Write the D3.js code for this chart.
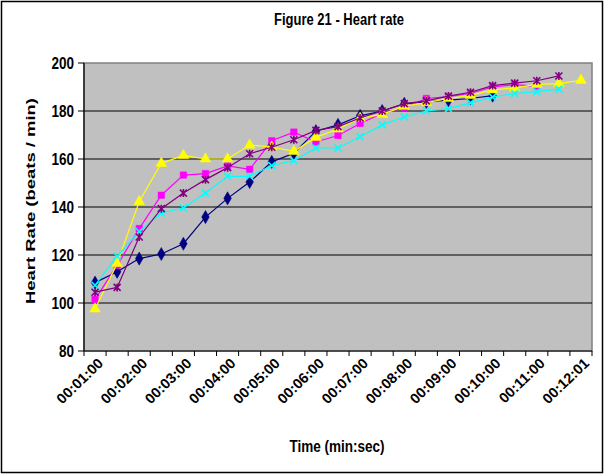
<!DOCTYPE html>
<html><head><meta charset="utf-8">
<script src="https://cdn.jsdelivr.net/npm/d3@7"></script>
<style>
body{margin:0;background:#fff}
svg{display:block}
text{font-family:"Liberation Sans",Arial,sans-serif;font-weight:bold;fill:#000}
</style>
</head><body>
<svg id="c" width="605" height="476"></svg>
<script>
const categories = ["00:01:00","00:01:30","00:02:00","00:02:30","00:03:00","00:03:30","00:04:00","00:04:30",
  "00:05:00","00:05:30","00:06:00","00:06:30","00:07:00","00:07:30","00:08:00","00:08:30","00:09:00","00:09:30",
  "00:10:00","00:10:30","00:11:00","00:11:30","00:12:01"];
const seriesNavy    = [108.5,113,118.5,120.4,124.7,135.8,143.6,150.4,158.8,162.4,171.6,174.2,178,180,183,183.8,184.5,185.2,186.4];
const seriesMagenta = [101.5,115.7,131,144.9,153.3,153.9,157.1,155.7,167.6,171.2,167.1,169.8,174.8,179,181.4,185.2,186,187.4,190,191,190.3];
const seriesYellow  = [97.5,116.5,142.2,158.2,161.5,160,160,165.8,165,163.2,169,172.5,177,178.6,182,183.5,185.2,186.5,188.8,189.6,191.1,191.4,192.8];
const seriesCyan    = [107.4,119.5,129.8,137.5,139.6,145.8,152.8,152.8,157.3,159.3,164.6,164.6,169.3,174.2,177.5,180,181,183.4,185.8,187.3,188.1,189.1];
const seriesPurple  = [104.5,106.5,127.5,139.3,145.8,151.4,156.4,162.2,164.9,168,171.9,173.5,177.1,180,183.1,184.2,186.2,187.8,190.6,191.6,192.6,194.6];
const yTicks = [80,100,120,140,160,180,200];
const xTickLabels = categories.filter((d,i)=>i%2===0);
const titleText = "Figure 21 - Heart rate";
const xTitle = "Time (min:sec)";
const yTitle = "Heart Rate (beats / min)";

const series = [
  {values: seriesNavy,    color:"#000080", marker:"diamond"},
  {values: seriesMagenta, color:"#FF00FF", marker:"square"},
  {values: seriesYellow,  color:"#FFFF00", marker:"triangle"},
  {values: seriesCyan,    color:"#00FFFF", marker:"x"},
  {values: seriesPurple,  color:"#800080", marker:"star"}
];

const svg = d3.select("#c");
const L=84, R=592, T=63, B=351;
const SY = 1.2; // vertical stretch of lettering, as in the reference
const x = d3.scaleBand().domain(categories).range([L,R]);
const y = d3.scaleLinear().domain([80,200]).range([B,T]);
const cx = c => x(c) + x.bandwidth()/2;

// outer border
svg.append("rect").attr("x",1.5).attr("y",1.5).attr("width",601).attr("height",471)
  .attr("fill","#fff").attr("stroke","#000").attr("stroke-width",1.5);

// plot area
svg.append("rect").attr("x",L).attr("y",T).attr("width",R-L).attr("height",B-T)
  .attr("fill","#C0C0C0").attr("stroke","#808080").attr("stroke-width",1.5);

// gridlines
svg.append("g").selectAll("line").data(yTicks.filter(v=>v>80 && v<200)).join("line")
  .attr("x1",L).attr("x2",R).attr("y1",d=>y(d)).attr("y2",d=>y(d))
  .attr("stroke","#000").attr("stroke-width",1.2);

// y axis
svg.append("line").attr("x1",L).attr("x2",L).attr("y1",T).attr("y2",B).attr("stroke","#000").attr("stroke-width",1.2);
svg.append("g").selectAll("line").data(yTicks).join("line")
  .attr("x1",L-6).attr("x2",L).attr("y1",d=>y(d)).attr("y2",d=>y(d)).attr("stroke","#000");
svg.append("g").selectAll("text").data(yTicks).join("text")
  .attr("transform",d=>`translate(${L-10},${y(d)+5.5}) scale(1,${SY})`)
  .attr("text-anchor","end").style("font-size","13.5px").text(d=>d);

// x axis
svg.append("line").attr("x1",L).attr("x2",R).attr("y1",B).attr("y2",B).attr("stroke","#000").attr("stroke-width",1.2);
const bounds = categories.map(c=>x(c)).concat([R]);
svg.append("g").selectAll("line").data(bounds).join("line")
  .attr("x1",d=>d).attr("x2",d=>d).attr("y1",B).attr("y2",B+5).attr("stroke","#000");
svg.append("g").selectAll("text").data(xTickLabels).join("text")
  .attr("transform",d=>`translate(${cx(d)+1},${B+5}) rotate(-44)`)
  .attr("text-anchor","end").attr("dy","0.8em").style("font-size","14.5px").text(d=>d);

// lines & markers
const line = d3.line().x((d,i)=>cx(categories[i])).y(d=>y(d));
const symPath = {
  diamond: d3.symbol(d3.symbolDiamond, 50)(),
  square: d3.symbol(d3.symbolSquare, 42)(),
  triangle: d3.symbol(d3.symbolTriangle, 50)()
};
series.forEach(s=>{
  const g = svg.append("g");
  g.append("path").attr("d",line(s.values)).attr("fill","none").attr("stroke",s.color).attr("stroke-width",1.2);
  const pts = g.selectAll("g").data(s.values).join("g")
    .attr("transform",(d,i)=>`translate(${cx(categories[i])},${y(d)})`);
  if (symPath[s.marker]) {
    pts.append("path").attr("d",symPath[s.marker]).attr("fill",s.color).attr("stroke",s.color).attr("stroke-width",0.5);
  } else {
    const r=3.5;
    pts.append("path").attr("d",`M${-r},${-r}L${r},${r}M${-r},${r}L${r},${-r}` + (s.marker==="star"?`M0,${-r-0.5}L0,${r+0.5}`:""))
      .attr("stroke",s.color).attr("stroke-width",1.6).attr("fill","none");
  }
});

// titles
svg.append("text").attr("transform",`translate(339,25) scale(1,${SY})`).attr("text-anchor","middle").style("font-size","13px").text(titleText);
svg.append("text").attr("transform",`translate(337,452) scale(1,${SY})`).attr("text-anchor","middle").style("font-size","13.5px").text(xTitle);
svg.append("text").attr("transform",`translate(35,201) rotate(-90)`).attr("text-anchor","middle")
  .style("font-size","13.5px").attr("textLength",206).attr("lengthAdjust","spacingAndGlyphs").text(yTitle);
</script>
</body></html>
